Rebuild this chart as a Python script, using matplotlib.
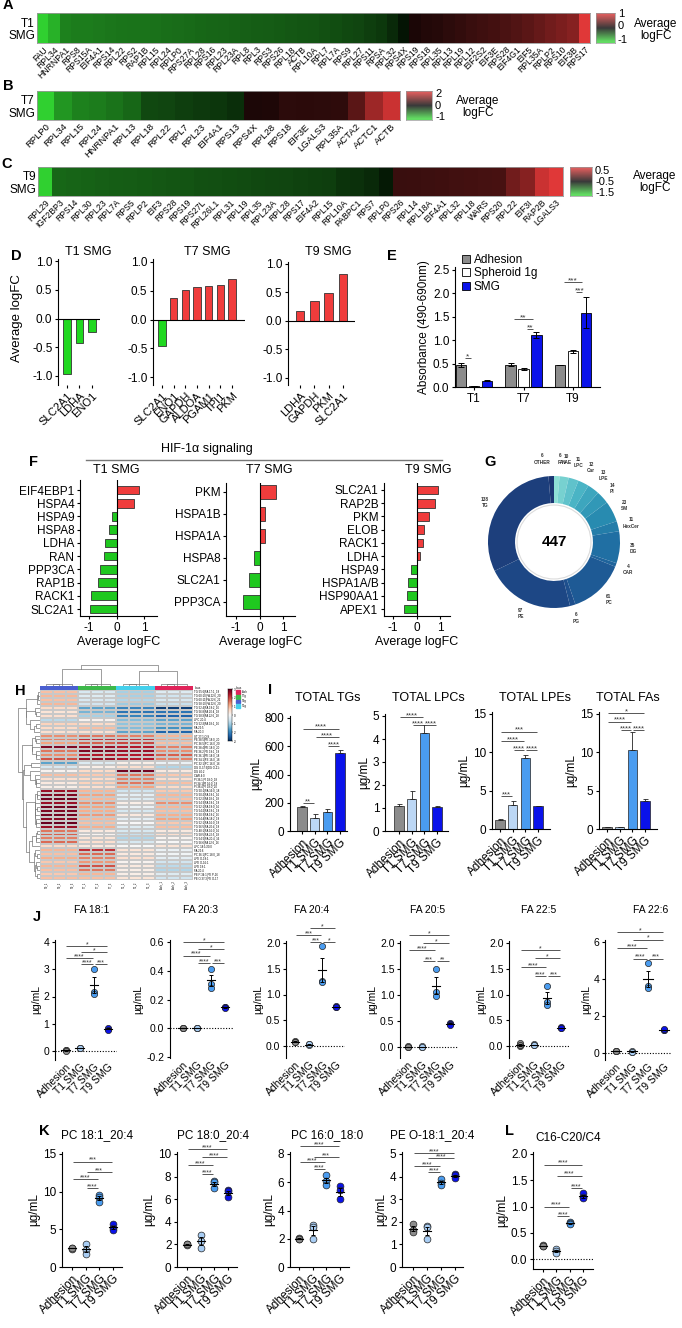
import numpy as np
import matplotlib.pyplot as plt
from matplotlib.colors import LinearSegmentedColormap, TwoSlopeNorm, ListedColormap
from matplotlib.patches import Circle, Rectangle
from matplotlib.lines import Line2D

plt.rcParams['font.family'] = ['Liberation Sans', 'DejaVu Sans']
plt.rcParams['axes.unicode_minus'] = False
plt.rcParams['axes.linewidth'] = 0.8
for k in ['xtick', 'ytick']:
    plt.rcParams[k + '.major.width'] = 0.8
    plt.rcParams[k + '.major.size'] = 2.5
    plt.rcParams[k + '.major.pad'] = 1.5

# ---------------- data ----------------
# A-C  average logFC of translation genes
genes_t1 = ['FAU', 'RPL34', 'HNRNPA1', 'RPS8', 'RPS15A', 'EIF4A1', 'RPS14', 'RPL22', 'RPS2', 'RAP1B',
            'RPL15', 'RPL24', 'RPLP0', 'RPS27A', 'RPL28', 'RPS16', 'RPL23', 'RPL23A', 'RPL8', 'RPL3',
            'RPS3', 'RPS26', 'RPL18', 'ACTB', 'RPL10A', 'RPL7', 'RPL7A', 'RPS9', 'RPL27', 'RPS11',
            'RPSA', 'RPL32', 'RPS4X', 'RPS19', 'RPS18', 'RPL35', 'RPL13', 'RPL19', 'RPL12', 'EIF2S2',
            'EIF3E', 'RPS28', 'EIF4G1', 'EIF5', 'RPL35A', 'RPLP2', 'RPS10', 'EIF3B', 'RPS17']
fc_t1 = [-1.0, -0.85, -0.62, -0.6, -0.6, -0.58, -0.57, -0.56, -0.55, -0.55,
         -0.54, -0.53, -0.52, -0.51, -0.5, -0.49, -0.48, -0.47, -0.46, -0.45,
         -0.44, -0.43, -0.42, -0.41, -0.4, -0.39, -0.37, -0.35, -0.33, -0.3,
         -0.27, -0.2, -0.1, 0.12, 0.15, 0.17, 0.2, 0.22, 0.25, 0.28,
         0.3, 0.33, 0.36, 0.4, 0.45, 0.5, 0.55, 0.6, 1.0]

genes_t7 = ['RPLP0', 'RPL34', 'RPL15', 'RPL24', 'HNRNPA1', 'RPL13', 'RPL18', 'RPL22', 'RPL7', 'RPL23',
            'EIF4A1', 'RPS13', 'RPS4X', 'RPL28', 'RPS18', 'EIF3E', 'LGALS3', 'RPL35A', 'ACTA2', 'ACTC1', 'ACTB']
fc_t7 = [-1.0, -0.72, -0.62, -0.6, -0.55, -0.5, -0.35, -0.33, -0.3, -0.28,
         -0.26, -0.22, 0.25, 0.28, 0.4, 0.38, 0.4, 0.42, 0.8, 1.4, 1.8]

genes_t9 = ['RPL29', 'IGF2BP3', 'RPS14', 'RPL30', 'RPL23', 'RPL7A', 'RPS5', 'RPLP2', 'EIF3', 'RPS28',
            'RPS19', 'RPS27L', 'RPL26L1', 'RPL31', 'RPL19', 'RPL35', 'RPL23A', 'RPL28', 'RPS17', 'EIF4A2',
            'RPL15', 'RPL10A', 'PABPC1', 'RPS7', 'RPLP0', 'RPS26', 'RPL14', 'RPL18A', 'EIF4A1', 'RPL32',
            'RPL18', 'WARS', 'RPS20', 'RPL22', 'EIF3I', 'RAP2B', 'LGALS3']
fc_t9 = [-1.5, -1.0, -0.98, -0.97, -0.96, -0.95, -0.94, -0.93, -0.92, -0.91,
         -0.9, -0.89, -0.88, -0.87, -0.86, -0.85, -0.84, -0.83, -0.82, -0.81,
         -0.8, -0.75, -0.73, -0.7, -0.62, -0.25, -0.24, -0.23, -0.22, -0.21,
         -0.2, -0.19, -0.18, 0.0, 0.1, 0.4, 0.5]

# D  glycolysis genes
d_t1_genes = ['SLC2A1', 'LDHA', 'ENO1']
d_t1_fc = [-0.97, -0.43, -0.24]
d_t7_genes = ['SLC2A1', 'ENO1', 'GAPDH', 'ALDOA', 'PGAM1', 'TPI1', 'PKM']
d_t7_fc = [-0.46, 0.38, 0.52, 0.57, 0.59, 0.60, 0.70]
d_t9_genes = ['LDHA', 'GAPDH', 'PKM', 'SLC2A1']
d_t9_fc = [0.17, 0.35, 0.49, 0.83]

# E  absorbance
e_groups = ['T1', 'T7', 'T9']
e_adh = [0.47, 0.48, 0.46]
e_adh_err = [0.04, 0.04, 0.0]
e_sph = [0.02, 0.38, 0.76]
e_sph_err = [0.0, 0.02, 0.04]
e_smg = [0.13, 1.11, 1.59]
e_smg_err = [0.01, 0.06, 0.33]

# F  HIF-1a signaling
f_t1_genes = ['EIF4EBP1', 'HSPA4', 'HSPA9', 'HSPA8', 'LDHA', 'RAN', 'PPP3CA', 'RAP1B', 'RACK1', 'SLC2A1']
f_t1_fc = [0.82, 0.62, -0.18, -0.27, -0.42, -0.45, -0.6, -0.68, -0.92, -0.97]
f_t7_genes = ['PKM', 'HSPA1B', 'HSPA1A', 'HSPA8', 'SLC2A1', 'PPP3CA']
f_t7_fc = [0.7, 0.22, 0.22, -0.22, -0.43, -0.72]
f_t9_genes = ['SLC2A1', 'RAP2B', 'PKM', 'ELOB', 'RACK1', 'LDHA', 'HSPA9', 'HSPA1A/B', 'HSP90AA1', 'APEX1']
f_t9_fc = [0.92, 0.78, 0.52, 0.32, 0.27, 0.17, -0.22, -0.35, -0.42, -0.55]

# G  lipid classes
lipid_classes = ['FA', 'NAE', 'LPC', 'Car', 'LPE', 'PI', 'SM', 'HexCer', 'DG', 'CAR', 'PC', 'PG', 'PE', 'TG', 'OTHER']
lipid_counts = [6, 10, 11, 12, 13, 14, 23, 11, 35, 4, 61, 6, 97, 138, 6]

# H  lipid heatmap (group means, 4 groups)
h_rows = ['TG 55:6|FA 17:1_18', 'TG 60:10|FA 22:6_20', 'TG 60:11|FA 22:6_22', 'TG 58:10|FA 22:6_20',
          'TG 52:4|FA 18:2_16', 'TG 56:8|FA 20:4_18', 'TG 58:9|FA 22:6_18', 'LPC 20:4',
          'TG 52:3|FA 18:1_16', 'FA 22:5', 'FA 20:3', 'ST 27:1;O;S', 'PE 38:5|PE 18:0_20',
          'PC 36:5|PC 16:0_20', 'PE 38:4|PE 18:0_20', 'PE 36:2|PE 18:1_18', 'PE 36:1|PE 18:0_18',
          'PE 34:1|PE 16:0_18', 'PC 32:1|PC 16:0_16', 'DG O-37:3|DG O-21:', 'DG 40:2', 'CAR 4:0',
          'PI 36:1|PI 18:0_18', 'PI 34:1|PI 16:0_18', 'PI 38:4|PI 18:0_20', 'TG 50:1|FA 16:0_18',
          'TG 50:2|FA 18:1_16', 'TG 52:2|FA 18:1_18', 'TG 54:3|FA 18:1_18', 'TG 52:1|FA 18:0_16',
          'TG 54:2|FA 18:1_18', 'TG 50:3|FA 18:2_16', 'TG 54:4|FA 18:2_18', 'TG 52:1|FA 16:0_18',
          'TG 56:5|FA 20:4_18', 'TG 48:1|FA 16:0_16', 'TG 58:5|FA 22:5_18', 'TG 54:5|FA 20:4_16',
          'TG 56:6|FA 22:6_16', 'LPC 18:1/20:0', 'FA 22:6', 'PC 36:1|PC 18:0_18', 'LPE O-18:1',
          'LPE O-16:1', 'LPE 18:1', 'FA 20:4', 'PE P-34:1|PE P-16', 'PE O-37:3|PE O-17']
h_values = [
    [0.9, -0.5, -1.0, -0.4], [1.0, -0.4, -1.0, -0.6], [0.9, -0.5, -0.9, -0.5], [1.0, -0.6, -1.1, -0.7],
    [0.6, -1.6, -2.0, -2.8], [0.4, -1.4, -2.2, -2.2], [0.5, -1.0, -2.0, -2.4], [-0.8, 0.1, -1.3, -1.6],
    [0.7, 0.6, -1.2, -1.4], [0.6, 0.9, -1.3, -1.8], [0.5, 0.5, -1.6, -2.4], [1.4, 1.6, 1.5, 1.0],
    [1.5, 2.2, 2.2, 1.2], [1.2, 1.8, 2.0, 0.9], [2.8, 2.6, 2.4, 1.5], [1.6, 2.8, 2.6, 1.4],
    [1.4, 2.4, 2.4, 1.8], [1.9, 2.6, 2.4, 1.5], [-1.6, -0.4, 0.2, -0.2], [-0.5, 0.2, 0.5, -0.9],
    [0.1, 0.6, 2.9, 0.3], [0.9, 0.8, 1.6, 0.8], [0.5, 0.6, 1.5, 0.5], [0.3, 0.7, 1.6, 0.9],
    [0.2, 0.5, 1.2, 0.6], [2.6, 1.0, -0.6, 0.8], [2.8, 1.2, -0.3, 1.0], [2.9, 1.0, -0.4, 0.9],
    [2.6, 1.4, 0.2, 1.4], [2.9, 1.2, -0.2, 1.0], [2.8, 1.1, -0.5, 0.9], [2.9, 1.3, 0.3, 1.1],
    [2.7, 1.0, -0.3, 1.2], [3.0, 0.9, 0.0, 0.8], [2.6, 1.1, -0.4, 0.9], [1.6, 0.3, -0.5, 0.3],
    [1.8, 0.1, -0.7, 0.5], [1.5, 0.4, -0.9, 0.1], [1.7, 0.5, -0.5, 0.0], [0.6, 0.3, 0.0, 0.4],
    [1.0, 2.2, 0.4, -0.2], [0.9, 1.7, 0.3, -0.1], [1.1, 1.5, 0.5, -0.3], [0.8, 1.3, 0.1, -0.6],
    [1.0, 1.9, 0.3, -0.8], [0.9, 1.6, 0.2, -0.9], [0.8, 1.0, 0.2, -0.4], [0.9, 0.9, 0.4, -0.6]]
h_cols = ['T9_1', 'T9_2', 'T9_3', 'T7_1', 'T7_2', 'T7_3', 'T1_1', 'T1_2', 'T1_3', 'Adh_1', 'Adh_2', 'Adh_3']
h_groups = ['Adh', 'T7g', 'T9g', 'T1g']

# I  totals (mean, sem)
grp_names = ['Adhesion', 'T1 SMG', 'T7 SMG', 'T9 SMG']
tg_mean, tg_err = [168, 95, 137, 550], [6, 28, 20, 22]
lpc_mean, lpc_err = [1.08, 1.37, 4.27, 1.05], [0.1, 0.35, 0.33, 0.03]
lpe_mean, lpe_err = [1.2, 3.15, 9.3, 2.95], [0.05, 0.55, 0.3, 0.08]
fa_mean, fa_err = [0.2, 0.2, 10.3, 3.7], [0.05, 0.05, 2.3, 0.2]

# J  fatty acids (3 replicates per group)
fa181 = [[0.02, 0.03, 0.01], [0.12, 0.10, 0.11], [3.02, 2.15, 2.1], [0.82, 0.85, 0.78]]
fa203 = [[0.002, 0.001, 0.0], [0.003, 0.002, 0.002], [0.41, 0.31, 0.28], [0.15, 0.145, 0.14]]
fa204 = [[0.09, 0.08, 0.085], [0.03, 0.02, 0.03], [1.95, 1.26, 1.24], [0.77, 0.76, 0.75]]
fa205 = [[0.0, 0.01, 0.0], [0.0, 0.01, 0.0], [1.5, 1.05, 0.98], [0.46, 0.44, 0.43]]
fa225 = [[0.06, 0.0, 0.02], [0.03, 0.02, 0.01], [1.16, 0.85, 0.8], [0.36, 0.35, 0.34]]
fa226 = [[0.12, 0.13, 0.11], [0.08, 0.1, 0.07], [4.85, 3.6, 3.5], [1.25, 1.22, 1.28]]

# K, L  phospholipids / carnitine ratio
pc181 = [[2.55, 2.45, 2.5], [3.05, 2.3, 1.7], [9.6, 9.35, 8.6], [5.7, 5.15, 4.95]]
pc180 = [[2.0, 1.95, 2.02], [2.85, 2.3, 1.65], [7.62, 7.5, 7.0], [6.8, 6.7, 6.2]]
pc160 = [[2.08, 2.0, 1.95], [3.0, 2.85, 1.95], [6.5, 6.1, 5.8], [5.7, 5.45, 4.8]]
peo181 = [[1.9, 1.65, 1.55], [1.8, 1.75, 1.25], [3.88, 3.72, 3.65], [4.1, 4.05, 3.95]]
car_ratio = [[0.26, 0.24, 0.25], [0.2, 0.15, 0.12], [0.7, 0.68, 0.66], [1.25, 1.18, 1.16]]

# ---------------- helpers ----------------
W, H = 682, 1328
fig = plt.figure(figsize=(W / 100, H / 100), dpi=100)
grp_colors = ['#8c8c8c', '#bcd7f5', '#4a9cf0', '#0a12ea']
dot_colors = ['#8c8c8c', '#a8cdf4', '#4a9cf0', '#0a12ea']
red, green = '#f03c3c', '#1fd81f'


def axpx(x0, y0, x1, y1):
    return fig.add_axes([x0 / W, 1 - y1 / H, (x1 - x0) / W, (y1 - y0) / H])


def ftext(x, y, s, **kw):
    return fig.text(x / W, 1 - y / H, s, **kw)


def yax(x0, x1, ytop, ybot, pa, va, pb, vb):
    ax = axpx(x0, ytop, x1, ybot)
    k = (vb - va) / (pb - pa)
    ax.set_ylim(va + (ybot - pa) * k, va + (ytop - pa) * k)
    return ax


def xlim_px(ax, x0, x1, pa, va, pb, vb):
    k = (vb - va) / (pb - pa)
    ax.set_xlim(va + (x0 - pa) * k, va + (x1 - pa) * k)


def clean(ax):
    ax.spines['top'].set_visible(False)
    ax.spines['right'].set_visible(False)


def sig(ax, a, b, y, txt, fs=5.5):
    ax.plot([a + 0.07, b - 0.07], [y, y], color='#555555', lw=0.7, clip_on=False, solid_capstyle='butt')
    ax.annotate(txt, ((a + b) / 2, y), xytext=(0, -1.6), textcoords='offset points',
                ha='center', va='bottom', fontsize=fs, color='#333333', annotation_clip=False)


def letter(x, y, s):
    ftext(x, y, s, fontsize=10.5, fontweight='bold', ha='center', va='center')


# ---------------- A-C heatmaps ----------------
gbr = LinearSegmentedColormap.from_list('gbr', ['#30d030', '#000000', '#e03838'])
gbr_bar = LinearSegmentedColormap.from_list('gbrb', ['#62da62', '#3a3a3a', '#d85c5c'])


def gene_heat(box, genes, vals, norm, fs, rowlab, cbox, cticks, avg_xy):
    ax = axpx(*box)
    ax.imshow(np.array(vals)[None, :], cmap=gbr, norm=norm, aspect='auto', interpolation='nearest')
    ax.set_xticks(range(len(genes)))
    ax.set_xticklabels(genes, rotation=45, ha='right', rotation_mode='anchor', fontsize=fs)
    ax.set_yticks([])
    ax.tick_params(axis='x', length=0, pad=1.5)
    for s in ax.spines.values():
        s.set_color('#9a9a9a')
        s.set_linewidth(0.6)
    ftext(box[0] - 2, (box[1] + box[3]) / 2 + 2, rowlab, fontsize=8.5, ha='right', va='center',
          linespacing=1.05)
    cax = axpx(*cbox)
    cax.imshow(np.linspace(1, 0, 9)[:, None], cmap=gbr_bar, aspect='auto', interpolation='bilinear')
    cax.set_xticks([])
    cax.set_yticks([])
    for s in cax.spines.values():
        s.set_color('#9a9a9a')
        s.set_linewidth(0.5)
    for txt, yy in cticks:
        ftext(cbox[2] + 3, yy, txt, fontsize=8, ha='left', va='center')
    ftext(avg_xy[0], avg_xy[1], 'Average\nlogFC', fontsize=8.5, ha='center', va='center', linespacing=1.1)


gene_heat((37, 13, 590, 43), genes_t1, fc_t1, TwoSlopeNorm(0, -1, 1), 6.2, 'T1\nSMG',
          (596, 13, 615, 43), [('1', 14), ('0', 26), ('-1', 40)], (656, 30))
gene_heat((37, 91, 400, 120), genes_t7, fc_t7, TwoSlopeNorm(0, -1, 2), 6.8, 'T7\nSMG',
          (406, 91, 432, 120), [('2', 94), ('0', 106), ('-1', 117)], (478, 107))
gene_heat((38, 167, 563, 196), genes_t9, fc_t9, TwoSlopeNorm(-0.5, -1.5, 0.5), 6.2, 'T9\nSMG',
          (570, 167, 592, 196), [('0.5', 171), ('-0.5', 182), ('-1.5', 193)], (655, 182))
letter(8, 5, 'A')
letter(8, 86, 'B')
letter(7, 164, 'C')


# ---------------- D ----------------
def dpanel(x0, x1, ytop, ybot, p1, pm1, c0, c1, genes, vals, title, tx):
    ax = yax(x0, x1, ytop, ybot, p1, 1.0, pm1, -1.0)
    n = len(genes)
    xlim_px(ax, x0, x1, c0, 0, c1, n - 1)
    ax.bar(range(n), vals, width=0.62, color=[red if v > 0 else green for v in vals],
           edgecolor='#333333', linewidth=0.6)
    ax.axhline(0, color='k', lw=0.8)
    clean(ax)
    ax.spines['bottom'].set_visible(False)
    ax.set_yticks([-1.0, -0.5, 0.0, 0.5, 1.0])
    ax.set_yticklabels(['-1.0', '-0.5', '0.0', '0.5', '1.0'], fontsize=8.5)
    ax.set_xticks(range(n))
    ax.set_xticklabels(genes, rotation=45, ha='right', rotation_mode='anchor', fontsize=8)
    ax.tick_params(axis='x', length=2.5, pad=1.5)
    ftext(tx, 252, title, fontsize=9, ha='center', va='center')
    return ax


dpanel(58, 100, 259, 385, 261, 376, 67, 92, d_t1_genes, d_t1_fc, 'T1 SMG', 88)
dpanel(153, 245, 259, 385, 262, 377, 162, 232, d_t7_genes, d_t7_fc, 'T7 SMG', 207)
dpanel(288, 355, 262, 385, 264, 378, 300, 343, d_t9_genes, d_t9_fc, 'T9 SMG', 328)
ftext(17, 318, 'Average logFC', fontsize=9.5, rotation=90, ha='center', va='center')
letter(16, 256, 'D')

# ---------------- E ----------------
axe = yax(455, 600, 267, 387, 270, 2.5, 387, 0.0)
xlim_px(axe, 455, 600, 474, 0, 573, 2)
e_off = [-0.26, 0.0, 0.26]
for k, (m, er, c, lab) in enumerate([(e_adh, e_adh_err, '#8c8c8c', 'Adhesion'),
                                     (e_sph, e_sph_err, '#ffffff', 'Spheroid 1g'),
                                     (e_smg, e_smg_err, '#0a12ea', 'SMG')]):
    x = np.arange(3) + e_off[k]
    axe.bar(x, m, width=0.21, color=c, edgecolor='k', linewidth=0.6, label=lab)
    axe.errorbar(x, m, yerr=er, fmt='none', ecolor='k', elinewidth=0.7, capsize=2, capthick=0.7)
clean(axe)
axe.set_yticks([0, 0.5, 1.0, 1.5, 2.0, 2.5])
axe.set_yticklabels(['0.0', '0.5', '1.0', '1.5', '2.0', '2.5'], fontsize=8.5)
axe.set_xticks(range(3))
axe.set_xticklabels(e_groups, fontsize=8.5)
axe.set_ylabel('Absorbance (490-690nm)', fontsize=8.5, labelpad=2)
sig(axe, e_off[0], e_off[1], 0.62, '*', fs=6)
sig(axe, 1 + e_off[0], 1 + e_off[2], 1.45, '**', fs=6)
sig(axe, 1 + e_off[1], 1 + e_off[2], 1.24, '**', fs=6)
sig(axe, 2 + e_off[0], 2 + e_off[2], 2.24, '***', fs=6)
sig(axe, 2 + e_off[1], 2 + e_off[2], 2.02, '***', fs=6)
axe.legend(loc='upper left', bbox_to_anchor=(462 / W, 1 - 254 / H), bbox_transform=fig.transFigure,
           frameon=False, fontsize=8.5, handlelength=0.7, handleheight=0.7, handletextpad=0.3,
           labelspacing=0.12, borderaxespad=0, borderpad=0)
letter(392, 256, 'E')


# ---------------- F ----------------
def fpanel(x0, x1, ytop, ybot, c0, c1, pm1, p1, genes, vals, title, tx):
    ax = axpx(x0, ytop, x1, ybot)
    n = len(genes)
    k = (n - 1) / (c1 - c0)
    ax.set_ylim((ybot - c0) * k, (ytop - c0) * k)
    xlim_px(ax, x0, x1, pm1, -1, p1, 1)
    ax.barh(range(n), vals, height=0.65, color=[red if v > 0 else '#1fc81f' for v in vals],
            edgecolor='#333333', linewidth=0.6)
    ax.axvline(0, color='k', lw=0.8)
    clean(ax)
    ax.set_yticks(range(n))
    ax.set_yticklabels(genes, fontsize=8.5)
    ax.set_xticks([-1, 0, 1])
    ax.set_xticklabels(['-1', '0', '1'], fontsize=8.5)
    ax.set_xlabel('Average logFC', fontsize=9, labelpad=2)
    ftext(tx, 470, title, fontsize=9, ha='center', va='center')


fpanel(80, 157, 480, 616, 490, 609, 89, 144, f_t1_genes, f_t1_fc, 'T1 SMG', 116)
fpanel(226, 295, 483, 616, 492, 602, 236, 283, f_t7_genes, f_t7_fc, 'T7 SMG', 269)
fpanel(384, 450, 483, 616, 490, 609, 393, 440, f_t9_genes, f_t9_fc, 'T9 SMG', 428)
ftext(207, 449, 'HIF-1α signaling', fontsize=9, ha='center', va='center')
fig.add_artist(Line2D([86 / W, 442 / W], [1 - 460 / H, 1 - 460 / H], color='#777777', lw=1.0))
letter(34, 462, 'F')

# ---------------- G ----------------
axg = axpx(454, 442, 654, 642)
lipcmap = LinearSegmentedColormap.from_list('lip', ['#8fe0d6', '#4cb6c6', '#2990b3', '#1f6aa0',
                                                    '#1e4d8c', '#1c3773'])
n_l = len(lipid_counts)
wedges, _ = axg.pie(lipid_counts, startangle=90, counterclock=False,
                    colors=[lipcmap(i / (n_l - 1)) for i in range(n_l)], radius=1.0,
                    wedgeprops=dict(width=0.41, edgecolor='none'))
axg.set_aspect('equal')
axg.set_xlim(-100 / 66, 100 / 66)
axg.set_ylim(-100 / 66, 100 / 66)
axg.add_patch(Circle((0, 0), 0.56, fill=False, ec='#dcdcdc', lw=0.8))
axg.text(0, 0, str(sum(lipid_counts)), fontsize=11, fontweight='bold', ha='center', va='center')
for w, name, cnt in zip(wedges, lipid_classes, lipid_counts):
    ang = np.deg2rad((w.theta1 + w.theta2) / 2)
    cx, cy = np.cos(ang), np.sin(ang)
    ha = 'center'
    if abs(cx) < 0.1:
        ha = 'right' if cx < 0 else 'left'
    r = 1.26 if cy > 0.8 else 1.2
    axg.text(r * cx, r * cy, f'{cnt}\n{name}', fontsize=3.4, fontweight='bold',
             color='#333333', ha=ha, va='center', linespacing=1.3, multialignment='center')
letter(490, 462, 'G')


# ---------------- H ----------------
def adj_linkage(X):
    # agglomerative clustering that only merges neighbours, so the drawn order is kept
    X = np.asarray(X, float)
    clusters = [[i] for i in range(len(X))]
    pos = [i + 0.5 for i in range(len(X))]
    hgt = [0.0] * len(X)
    links = []
    while len(clusters) > 1:
        best = None
        for k in range(len(clusters) - 1):
            d = np.mean([np.linalg.norm(X[i] - X[j]) for i in clusters[k] for j in clusters[k + 1]])
            if best is None or d < best[0]:
                best = (d, k)
        d, k = best
        h = max(d, hgt[k], hgt[k + 1])
        links.append((pos[k], hgt[k], pos[k + 1], hgt[k + 1], h))
        clusters[k] = clusters[k] + clusters[k + 1]
        del clusters[k + 1]
        pos[k] = (pos[k] + pos[k + 1]) / 2
        del pos[k + 1]
        hgt[k] = h
        del hgt[k + 1]
    return links


hv = np.repeat(np.array(h_values), 3, axis=1)
nr = hv.shape[0]
axh = axpx(40, 690, 193, 880)
axh.pcolormesh(hv, cmap='RdBu_r', vmin=-3, vmax=3, edgecolors='#c8c8c8', linewidth=0.15)
axh.set_xlim(0, 12)
axh.set_ylim(nr, 0)
axh.yaxis.tick_right()
axh.set_yticks(np.arange(nr) + 0.5)
axh.set_yticklabels(h_rows, fontsize=2)
axh.set_xticks(np.arange(12) + 0.5)
axh.set_xticklabels(h_cols, fontsize=2, rotation=90)
axh.tick_params(length=0, pad=1)
for s in axh.spines.values():
    s.set_visible(False)

axs = axpx(40, 686, 193, 690)
axs.imshow(np.repeat(np.arange(4), 3)[None, :], cmap=ListedColormap(['#4a5fd0', '#3db84a', '#44d0ec', '#e0245a']),
           aspect='auto', interpolation='nearest')
axs.axis('off')
ftext(195, 688, 'class', fontsize=2, ha='left', va='center')

col_links = adj_linkage(hv.T)
axt = axpx(40, 664, 193, 686)
cmax = max(l[4] for l in col_links)
off = 0.1 * cmax
for p1, h1, p2, h2, h in col_links:
    b1 = h1 + off if h1 > 0 else 0
    b2 = h2 + off if h2 > 0 else 0
    axt.plot([p1, p1, p2, p2], [b1, h + off, h + off, b2], color='#777777', lw=0.5)
axt.set_xlim(0, 12)
axt.set_ylim(0, (cmax + off) * 1.03)
axt.axis('off')

row_links = adj_linkage(np.array(h_values))
axl = axpx(17, 690, 40, 880)
rmax = max(l[4] for l in row_links)
roff = 0.05 * rmax
for p1, h1, p2, h2, h in row_links:
    b1 = h1 + roff if h1 > 0 else 0
    b2 = h2 + roff if h2 > 0 else 0
    axl.plot([-b1, -(h + roff), -(h + roff), -b2], [p1, p1, p2, p2], color='#777777', lw=0.5)
axl.set_ylim(nr, 0)
axl.set_xlim(-(rmax + roff) * 1.03, 0)
axl.axis('off')

axhc = axpx(228, 689, 232, 741)
axhc.imshow(np.linspace(3, -3, 64)[:, None], cmap='RdBu_r', vmin=-3, vmax=3, aspect='auto',
            extent=(0, 1, -3, 3))
axhc.set_xticks([])
axhc.yaxis.tick_right()
axhc.set_yticks([-3, -2, -1, 0, 1, 2, 3])
axhc.tick_params(labelsize=2.2, length=1, width=0.3, pad=0.5)
for s in axhc.spines.values():
    s.set_linewidth(0.3)
ftext(236, 688, 'class', fontsize=2, ha='left', va='center')
for i, (gname, gc) in enumerate(zip(h_groups, ['#e0245a', '#3db84a', '#4a5fd0', '#44d0ec'])):
    fig.add_artist(Rectangle((236 / W, 1 - (694 + i * 4.5) / H), 4 / W, 3.5 / H, color=gc,
                             transform=fig.transFigure))
    ftext(241.5, 692 + i * 4.5, gname, fontsize=2, ha='left', va='center')
letter(20, 691, 'H')


# ---------------- I ----------------
def ibar(x0, x1, ytop, ybot, pa, va, c0, c1, means, errs, title, tx, ticks, sigs):
    ax = yax(x0, x1, ytop, ybot, pa, va, ybot, 0.0)
    xlim_px(ax, x0, x1, c0, 0, c1, 3)
    ax.bar(range(4), means, width=0.72, color=grp_colors, edgecolor='#222222', linewidth=0.5)
    ax.errorbar(range(4), means, yerr=[np.zeros(4), errs], fmt='none', ecolor='#222222',
                elinewidth=0.6, capsize=1.8, capthick=0.6)
    clean(ax)
    ax.set_yticks(ticks)
    ax.set_yticklabels([str(t) for t in ticks], fontsize=8.5)
    ax.set_xticks(range(4))
    ax.set_xticklabels(grp_names, rotation=45, ha='right', rotation_mode='anchor', fontsize=8.5)
    ax.set_ylabel('µg/mL', fontsize=8.5, labelpad=2)
    for a, b, y, t in sigs:
        sig(ax, a, b, y, t)
    ftext(tx, 698, title, fontsize=9, ha='center', va='center')


ibar(290, 347, 716, 831, 718, 800, 302, 340, tg_mean, tg_err, 'TOTAL TGs', 328, [0, 200, 400, 600, 800],
     [(0, 1, 195, '**'), (0, 3, 725, '****'), (1, 3, 665, '****'), (2, 3, 600, '****')])
ibar(385, 448, 714, 831, 716, 5, 399, 437, lpc_mean, lpc_err, 'TOTAL LPCs', 428, [0, 1, 2, 3, 4, 5],
     [(0, 2, 4.94, '****'), (1, 2, 4.6, '****'), (2, 3, 4.6, '****')])
ibar(492, 550, 712, 829, 714, 15, 500, 538, lpe_mean, lpe_err, 'TOTAL LPEs', 535, [0, 5, 10, 15],
     [(0, 1, 4.25, '***'), (0, 3, 12.7, '***'), (0, 2, 11.5, '****'), (1, 2, 10.3, '****'),
      (2, 3, 10.3, '****')])
ibar(599, 657, 712, 829, 714, 15, 607, 645, fa_mean, fa_err, 'TOTAL FAs', 628, [0, 5, 10, 15],
     [(0, 3, 15.1, '*'), (0, 2, 14.0, '****'), (1, 2, 12.9, '****'), (2, 3, 12.9, '****')])
letter(270, 690, 'I')


# ---------------- J, K, L dot plots ----------------
def dotax(x0, x1, ytop, ybot, pa, va, pb, vb, c0, c1, pts, title, tx, ty, ticks, fmt, sigs,
          fs=8, dotted=False, bottom=True, ms=24):
    ax = yax(x0, x1, ytop, ybot, pa, va, pb, vb)
    xlim_px(ax, x0, x1, c0, 0, c1, 3)
    for i, p in enumerate(pts):
        p = np.asarray(p, float)
        m = p.mean()
        se = p.std(ddof=1) / np.sqrt(len(p))
        ax.scatter(np.full(len(p), i), p, s=ms, color=dot_colors[i], edgecolor='#222222',
                   linewidth=0.5, zorder=3)
        ax.plot([i - 0.3, i + 0.3], [m, m], color='k', lw=0.8, zorder=4)
        ax.errorbar(i, m, yerr=se, fmt='none', ecolor='k', elinewidth=0.7, capsize=1.6,
                    capthick=0.7, zorder=4)
    if dotted:
        ax.axhline(0, color='k', lw=0.8, ls=(0, (1, 1.5)), zorder=1)
    clean(ax)
    if not bottom:
        ax.spines['bottom'].set_visible(False)
    ax.set_yticks(ticks)
    ax.set_yticklabels([fmt % t for t in ticks], fontsize=fs)
    ax.set_xticks(range(4))
    ax.set_xticklabels(grp_names, rotation=45, ha='right', rotation_mode='anchor', fontsize=fs)
    ax.tick_params(axis='x', length=0 if not bottom else 2.5)
    ax.set_ylabel('µg/mL', fontsize=fs, labelpad=2)
    for a, b, y, t in sigs:
        sig(ax, a, b, y, t, fs=5)
    ftext(tx, ty, title, fontsize=fs, ha='center', va='center')


jy = 910
dotax(55, 117, 940, 1060, 942, 4, 1051, 0, 65.5, 108, fa181, 'FA 18:1', 92, jy, [0, 1, 2, 3, 4], '%g',
      [(0, 3, 3.85, '*'), (1, 3, 3.62, '*'), (0, 2, 3.42, '****'), (1, 2, 3.18, '****'), (2, 3, 3.18, '***')],
      fs=7.5, dotted=True, bottom=False, ms=20)
dotax(170, 234, 940, 1058, 942, 0.6, 1057, -0.2, 182.5, 225, fa203, 'FA 20:3', 201, jy,
      [-0.2, 0.0, 0.2, 0.4, 0.6], '%.1f',
      [(0, 3, 0.60, '*'), (1, 3, 0.55, '*'), (0, 2, 0.505, '****'), (1, 2, 0.455, '****'),
       (2, 3, 0.455, '***')], fs=7.5, dotted=True, bottom=False, ms=20)
dotax(286, 345, 941, 1058, 943, 2.0, 1046, 0.0, 295, 336, fa204, 'FA 20:4', 312, jy,
      [0.0, 0.5, 1.0, 1.5, 2.0], '%.1f',
      [(1, 3, 2.29, '*'), (0, 2, 2.16, '***'), (1, 2, 2.02, '***'), (2, 3, 2.02, '*')],
      fs=7.5, dotted=True, bottom=False, ms=20)
dotax(400, 458, 941, 1058, 943, 2.0, 1047, 0.0, 408, 450, fa205, 'FA 20:5', 428, jy,
      [0.0, 0.5, 1.0, 1.5, 2.0], '%.1f',
      [(0, 3, 2.16, '*'), (1, 3, 2.0, '*'), (0, 2, 1.86, '****'), (1, 2, 1.65, '***'), (2, 3, 1.65, '**')],
      fs=7.5, dotted=True, bottom=False, ms=20)
dotax(509, 570, 941, 1058, 943, 2.0, 1046, 0.0, 520, 561, fa225, 'FA 22:5', 539, jy,
      [0.0, 0.5, 1.0, 1.5, 2.0], '%.1f',
      [(0, 3, 1.86, '*'), (1, 3, 1.7, '*'), (0, 2, 1.54, '****'), (1, 2, 1.35, '****'), (2, 3, 1.35, '***')],
      fs=7.5, dotted=True, bottom=False, ms=20)
dotax(605, 672, 940, 1060, 942, 6, 1053, 0, 616, 664, fa226, 'FA 22:6', 651, jy, [0, 2, 4, 6], '%g',
      [(0, 3, 6.54, '*'), (1, 3, 6.13, '*'), (0, 2, 5.68, '****'), (1, 2, 5.1, '****'), (2, 3, 5.1, '***')],
      fs=7.5, dotted=True, bottom=False, ms=20)
letter(37, 917, 'J')

dotax(62, 122, 1152, 1267, 1154, 15, 1267, 0, 72, 113, pc181, 'PC 18:1_20:4', 97, 1135, [0, 5, 10, 15], '%g',
      [(0, 3, 14.0, '***'), (1, 3, 12.6, '***'), (0, 2, 11.7, '****'), (1, 2, 10.5, '****')], fs=8.5)
dotax(177, 237, 1152, 1267, 1154, 10, 1267, 0, 187, 228, pc180, 'PC 18:0_20:4', 213, 1135,
      [0, 2, 4, 6, 8, 10], '%g',
      [(0, 3, 10.4, '****'), (1, 3, 9.75, '****'), (0, 2, 9.05, '****'), (1, 2, 8.25, '****')], fs=8.5)
dotax(290, 349, 1152, 1267, 1154, 8, 1267, 0, 299, 340, pc160, 'PC 16:0_18:0', 327, 1135,
      [0, 2, 4, 6, 8], '%g',
      [(0, 3, 8.55, '****'), (1, 3, 7.8, '***'), (0, 2, 7.45, '****'), (1, 2, 6.96, '****')], fs=8.5)
dotax(402, 463, 1152, 1267, 1154, 5, 1267, 0, 413, 455, peo181, 'PE O-18:1_20:4', 432, 1135,
      [0, 1, 2, 3, 4, 5], '%g',
      [(0, 3, 5.04, '****'), (1, 3, 4.82, '****'), (0, 2, 4.45, '****'), (1, 2, 4.2, '****')], fs=8.5)
letter(44, 1131, 'K')

dotax(533, 593, 1152, 1269, 1154, 2.0, 1259, 0.0, 543, 583, car_ratio, 'C16-C20/C4', 568, 1138,
      [0.0, 0.5, 1.0, 1.5, 2.0], '%.1f',
      [(0, 3, 1.80, '****'), (1, 3, 1.59, '****'), (2, 3, 1.35, '****'), (0, 2, 1.0, '****'),
       (1, 2, 0.81, '****')], fs=8.5, dotted=True)
letter(510, 1131, 'L')

fig.savefig('out.png', dpi=100)
